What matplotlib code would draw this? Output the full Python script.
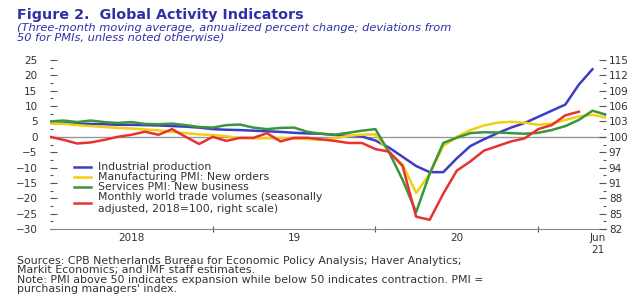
import matplotlib
matplotlib.use('Agg')
import matplotlib.pyplot as plt

# months since Jan 2018 (0 = Jan 2018, 41 = Jun 2021)
months = list(range(42))

# percent / PMI deviations (left scale)
industrial = [4.5, 4.4, 4.3, 4.2, 4.1, 3.9, 3.9, 3.8, 3.7, 3.5, 3.3, 3.0,
              2.5, 2.3, 2.2, 2.0, 1.8, 1.6, 1.3, 1.1, 1.0, 0.6, 0.3, 0.1,
              -1.2, -3.5, -6.5, -9.5, -11.5, -11.5, -7.0, -3.0, -0.8, 1.2, 3.0, 4.5,
              6.5, 8.5, 10.5, 17.0, 22.0]
manuf_pmi = [4.5, 4.2, 3.8, 3.5, 3.2, 2.9, 2.7, 2.4, 2.1, 1.6, 1.2, 0.8,
             0.6, 0.2, -0.4, -0.5, -0.5, -0.4, -0.6, -0.7, -1.0, -0.5, 0.3, 0.7,
             0.8, -5.0, -9.0, -18.3, -12.0, -3.0, 0.0, 2.2, 3.7, 4.6, 4.9, 4.6,
             3.9, 4.3, 5.5, 6.6, 7.2, 6.2]
services_pmi = [5.0, 5.3, 4.8, 5.3, 4.8, 4.5, 4.8, 4.2, 4.1, 4.3, 3.8, 3.2,
                3.0, 3.8, 4.0, 3.0, 2.5, 2.9, 3.0, 1.6, 1.0, 0.7, 1.3, 2.0,
                2.5, -5.0, -14.0, -24.5, -12.0, -2.0, -0.3, 1.2, 1.5, 1.4, 1.2, 1.0,
                1.3, 2.2, 3.5, 5.5, 8.5, 7.2]
# world trade volume index, 2018=100 (right scale)
trade = [100.0, 99.4, 98.7, 98.9, 99.4, 100.0, 100.4, 101.0, 100.4, 101.5, 100.0, 98.6,
         100.0, 99.2, 99.8, 99.8, 100.7, 99.1, 99.8, 99.8, 99.5, 99.2, 98.8, 98.8,
         97.6, 97.1, 94.3, 84.4, 83.8, 88.9, 93.4, 95.2, 97.3, 98.2, 99.1, 99.7,
         101.5, 102.3, 104.2, 104.9]

left_ticks = [-30, -25, -20, -15, -10, -5, 0, 5, 10, 15, 20, 25]
right_ticks = [82, 85, 88, 91, 94, 97, 100, 103, 106, 109, 112, 115]
year_bounds = [12, 24, 36]
x_label_pos = [6, 18, 30, 40.4]
x_labels = ['2018', '19', '20', 'Jun\n21']

blue = '#3c3cc6'
yellow = '#f0d010'
green = '#3a963a'
red = '#e83232'
txt = '#333333'
title_col = '#2f2fa8'

fig = plt.figure(figsize=(6.38, 2.97), dpi=100)
ax = fig.add_axes([50 / 638, 1 - 229 / 297, 556 / 638, 169 / 297])

ax.axhline(0, color='#999999', lw=1, zorder=1)
l1, = ax.plot(months[:len(industrial)], industrial, color=blue, lw=1.8, label='Industrial production')
l2, = ax.plot(months[:len(manuf_pmi)], manuf_pmi, color=yellow, lw=1.8, label='Manufacturing PMI: New orders')
l3, = ax.plot(months[:len(services_pmi)], services_pmi, color=green, lw=1.8, label='Services PMI: New business')

ax2 = ax.twinx()
l4, = ax2.plot(months[:len(trade)], trade, color=red, lw=1.8,
               label='Monthly world trade volumes (seasonally\nadjusted, 2018=100, right scale)')

ax.set_xlim(0, 41)
ax.set_ylim(-30, 25)
ax2.set_ylim(82, 115)

ax.set_yticks(left_ticks)
ax.set_yticks([v + 2.5 for v in left_ticks[:-1]], minor=True)
ax2.set_yticks(right_ticks)
ax2.set_yticks([v + 1.5 for v in right_ticks[:-1]], minor=True)

ax.set_xticks(year_bounds)
ax.set_xticklabels([])
ax.set_xticks(x_label_pos, minor=True)
ax.set_xticklabels(x_labels, minor=True)

for a in (ax, ax2):
    for s in ('top', 'left', 'right'):
        a.spines[s].set_visible(False)
ax2.spines['bottom'].set_visible(False)
ax.spines['bottom'].set_color('#888888')

ax.tick_params(axis='y', which='major', direction='in', length=5, width=0.8,
               color='#555555', labelsize=7.5, labelcolor=txt, pad=9)
ax.tick_params(axis='y', which='minor', direction='in', length=2.5, width=0.8, color='#555555')
ax2.tick_params(axis='y', which='major', direction='in', length=5, width=0.8,
                color='#555555', labelsize=7.5, labelcolor=txt, pad=2)
ax2.tick_params(axis='y', which='minor', direction='in', length=2.5, width=0.8, color='#555555')
ax.tick_params(axis='x', which='major', direction='inout', length=4, width=0.8, color='#555555')
ax.tick_params(axis='x', which='minor', length=0, labelsize=7.5, labelcolor=txt, pad=3)

ax.legend(handles=[l1, l2, l3, l4], loc='upper left', bbox_to_anchor=(0.035, 0.42),
          frameon=False, fontsize=7.8, handlelength=1.6, handletextpad=0.6,
          labelspacing=0.0, borderaxespad=0, labelcolor=txt)

fig.text(17 / 638, 1 - 15 / 297, 'Figure 2.  Global Activity Indicators', color=title_col,
         fontsize=10.3, fontweight='bold', va='center', ha='left')
fig.text(17 / 638, 1 - 23 / 297,
         '(Three-month moving average, annualized percent change; deviations from\n'
         '50 for PMIs, unless noted otherwise)',
         color=title_col, fontsize=8.2, style='italic', va='top', ha='left', linespacing=0.95)

footer = ('Sources: CPB Netherlands Bureau for Economic Policy Analysis; Haver Analytics;\n'
          'Markit Economics; and IMF staff estimates.\n'
          'Note: PMI above 50 indicates expansion while below 50 indicates contraction. PMI =\n'
          "purchasing managers' index.")
fig.text(17 / 638, 1 - 256 / 297, footer, color=txt, fontsize=7.9,
         va='top', ha='left', linespacing=0.92)

fig.savefig('out.png', dpi=100)
